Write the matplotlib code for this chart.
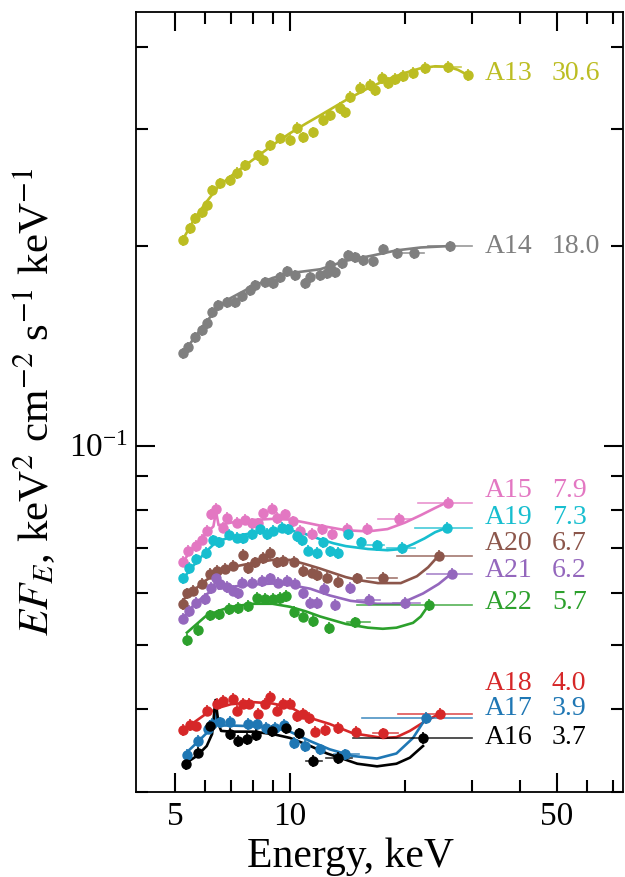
import numpy as np
import matplotlib
matplotlib.use('Agg')
import matplotlib.pyplot as plt
from matplotlib.ticker import FixedLocator, NullFormatter, FixedFormatter

plt.rcParams['font.family'] = ['Liberation Serif', 'DejaVu Serif']
plt.rcParams['mathtext.fontset'] = 'stix'

# ---- spectra: energy (keV) and E*F_E ----
e_a13 = [5.25, 5.47, 5.64, 5.88, 6.06, 6.25, 6.56, 6.96, 7.27, 7.62, 8.25, 8.50, 8.86, 9.41, 10.0,
         10.43, 10.8, 11.49, 12.2, 12.73, 13.52, 13.93, 14.36, 15.25, 16.2, 16.7, 17.4, 18.05, 18.83,
         19.76, 20.99, 22.57, 25.92, 29.24]
f_a13 = [0.204, 0.2127, 0.2202, 0.2249, 0.2304, 0.2428, 0.2488, 0.2514, 0.2576, 0.2648, 0.2742, 0.2694,
         0.2839, 0.2909, 0.2889, 0.3012, 0.2919, 0.2970, 0.3097, 0.3151, 0.3229, 0.3184, 0.3355, 0.3462,
         0.3498, 0.3438, 0.3584, 0.3522, 0.3572, 0.3609, 0.3647, 0.3711, 0.3724, 0.3622]

e_a14 = [5.25, 5.41, 5.64, 5.88, 6.06, 6.25, 6.48, 6.84, 7.18, 7.49, 7.86, 8.1, 8.6, 9.03, 9.41, 9.82,
         10.3, 10.95, 11.28, 11.98, 12.5, 12.73, 13.12, 13.68, 14.19, 14.8, 15.53, 16.5, 17.52, 19.06,
         21.12, 26.23]
f_a14 = [0.1377, 0.1406, 0.1456, 0.1492, 0.1529, 0.1588, 0.1627, 0.1644, 0.1644, 0.1679, 0.1714, 0.1745,
         0.1763, 0.1757, 0.1794, 0.1832, 0.1806, 0.1757, 0.1794, 0.1806, 0.1819, 0.1870, 0.1826, 0.1883,
         0.1936, 0.1923, 0.1903, 0.1896, 0.1977, 0.1950, 0.1950, 0.1998]

e_a15 = [5.25, 5.41, 5.67, 5.88, 6.06, 6.21, 6.40, 6.68, 6.84, 7.27, 7.62, 7.95, 8.25, 8.50, 8.97, 9.25,
         9.70, 10.18, 10.62, 11.42, 12.13, 12.88, 14.1, 15.91, 19.29, 25.92]
f_a15 = [0.0668, 0.0694, 0.0706, 0.0721, 0.0744, 0.0787, 0.0803, 0.0752, 0.0778, 0.0765, 0.0773, 0.0763,
         0.0763, 0.0790, 0.0803, 0.0778, 0.0787, 0.0768, 0.0744, 0.0736, 0.0747, 0.0736, 0.0749, 0.0749,
         0.0776, 0.0820]

e_a19 = [5.25, 5.43, 5.67, 6.03, 6.29, 6.52, 6.92, 7.27, 7.53, 7.95, 8.35, 8.71, 9.03, 9.53, 9.88, 10.43,
         10.75, 11.15, 11.77, 12.2, 12.73, 13.36, 14.19, 15.35, 16.9, 19.64, 25.76]
f_a19 = [0.0630, 0.0654, 0.0673, 0.0689, 0.0719, 0.0714, 0.0734, 0.0726, 0.0724, 0.0736, 0.0749, 0.0736,
         0.0744, 0.0752, 0.0747, 0.0731, 0.0719, 0.0694, 0.0689, 0.0714, 0.0692, 0.0689, 0.0736, 0.0714,
         0.0707, 0.0701, 0.0752]

e_a20 = [5.25, 5.37, 5.57, 5.88, 6.17, 6.44, 6.76, 7.09, 7.53, 7.76, 8.1, 8.5, 8.86, 9.25, 9.59, 10.24,
         10.8, 11.42, 11.77, 12.5, 13.36, 14.98, 17.52, 24.55]
f_a20 = [0.0577, 0.0598, 0.0604, 0.0619, 0.0641, 0.0647, 0.0652, 0.0659, 0.0684, 0.0654, 0.0666, 0.0677,
         0.0689, 0.0666, 0.0670, 0.0668, 0.0647, 0.0643, 0.0638, 0.0632, 0.0623, 0.0630, 0.0632, 0.0682]

e_a21 = [5.25, 5.43, 5.67, 5.99, 6.21, 6.40, 6.56, 6.84, 7.09, 7.31, 7.49, 7.95, 8.45, 8.86, 9.30, 9.82,
         10.3, 10.8, 11.28, 11.77, 12.27, 13.12, 14.36, 16.1, 20.0, 26.55]
f_a21 = [0.0548, 0.0563, 0.0579, 0.0587, 0.0610, 0.0632, 0.0619, 0.0612, 0.0604, 0.0598, 0.0621, 0.0621,
         0.0625, 0.0630, 0.0621, 0.0625, 0.0619, 0.0598, 0.0579, 0.0579, 0.0608, 0.0575, 0.0610, 0.0585,
         0.0579, 0.0641]

e_a22 = [5.37, 5.74, 6.17, 6.52, 6.92, 7.31, 7.76, 8.20, 8.6, 9.03, 9.41, 9.76, 10.24, 10.8, 11.49,
         12.65, 14.8, 23.12]
f_a22 = [0.0509, 0.0527, 0.0554, 0.0556, 0.0567, 0.0569, 0.0573, 0.0589, 0.0587, 0.0587, 0.0589, 0.0593,
         0.0561, 0.0552, 0.0544, 0.0531, 0.0541, 0.0575]

e_a18 = [5.25, 5.47, 5.67, 6.06, 6.44, 6.68, 7.09, 7.27, 7.53, 7.81, 8.25, 8.6, 8.86, 9.25, 9.59, 10.0,
         10.43, 10.8, 11.21, 11.63, 12.35, 13.36, 14.89, 17.52, 24.7]
f_a18 = [0.0372, 0.0379, 0.0378, 0.0398, 0.0408, 0.0412, 0.0415, 0.0398, 0.0408, 0.0408, 0.0394, 0.0408,
         0.0418, 0.0398, 0.0408, 0.0408, 0.0391, 0.0394, 0.0388, 0.0370, 0.0372, 0.0375, 0.0370, 0.0368,
         0.0394]

e_a17 = [5.37, 5.74, 6.10, 6.25, 6.56, 6.96, 7.76, 8.2, 8.65, 9.14, 9.645, 10.24, 10.95, 11.98, 13.93, 22.7]
f_a17 = [0.0341, 0.0358, 0.0374, 0.0380, 0.0382, 0.0383, 0.0380, 0.0380, 0.0375, 0.0375, 0.0379, 0.0356,
         0.0352, 0.0348, 0.0342, 0.0388]

e_a16 = [5.34, 5.74, 6.17, 6.96, 7.31, 7.71, 8.15, 8.97, 9.76, 10.56, 11.49, 13.36, 22.3]
f_a16 = [0.0331, 0.0344, 0.0378, 0.0367, 0.0358, 0.0361, 0.0366, 0.0371, 0.0375, 0.0368, 0.0334, 0.0338,
         0.0362]

# wide high-energy bins: (series, energy, low edge, high edge)
wide_bins = [
    ('A13', 25.92, 24.0, 28.0),
    ('A14', 21.12, 19.3, 22.4), ('A14', 26.23, 23.0, 30.0),
    ('A15', 19.29, 17.0, 21.0), ('A15', 25.92, 21.6, 30.0),
    ('A19', 16.9, 15.9, 17.6), ('A19', 19.64, 17.9, 21.2), ('A19', 25.76, 21.2, 30.0),
    ('A20', 17.52, 15.9, 19.06), ('A20', 24.55, 19.06, 30.0),
    ('A21', 16.1, 15.0, 17.2), ('A21', 20.0, 18.6, 21.9), ('A21', 26.55, 22.84, 30.0),
    ('A22', 14.8, 14.1, 16.2), ('A22', 23.12, 15.0, 30.0),
    ('A18', 17.52, 16.5, 19.2), ('A18', 24.7, 19.17, 30.0),
    ('A17', 13.93, 13.0, 15.2), ('A17', 22.7, 15.4, 30.0),
    ('A16', 11.49, 11.0, 12.1), ('A16', 13.36, 12.4, 14.5), ('A16', 22.3, 14.6, 30.0),
]

# ---- model curves (knots) ----
me_a13 = [5.25, 5.6, 6.0, 6.5, 7.0, 8.0, 9.0, 10, 11, 12, 14, 16, 18, 20, 22, 24, 25.9, 27.5, 29.3]
mf_a13 = [0.205, 0.219, 0.232, 0.246, 0.255, 0.270, 0.284, 0.296, 0.306, 0.315, 0.332, 0.346, 0.357,
          0.365, 0.371, 0.3735, 0.373, 0.369, 0.362]
me_a14 = [5.25, 6.0, 6.5, 7.0, 8.0, 9.0, 10, 12, 14, 16.5, 19, 22, 26.2]
mf_a14 = [0.138, 0.153, 0.162, 0.167, 0.174, 0.179, 0.182, 0.1845, 0.190, 0.1936, 0.197, 0.199, 0.200]
me_a15 = [5.25, 5.6, 6.0, 6.3, 6.4, 6.5, 7, 8, 9, 10, 11, 12, 14, 16, 18, 20, 22, 24, 25.9]
mf_a15 = [0.0668, 0.0705, 0.0735, 0.0755, 0.0795, 0.0758, 0.0765, 0.0772, 0.0775, 0.0773, 0.0765,
          0.0757, 0.0745, 0.0742, 0.0748, 0.0765, 0.0785, 0.0805, 0.0822]
me_a19 = [5.25, 5.6, 6.0, 6.4, 7, 8, 9, 10, 11, 12, 13, 14, 16, 18, 19.6, 21, 22.5, 24, 25.8]
mf_a19 = [0.0630, 0.0660, 0.0690, 0.0715, 0.0728, 0.0738, 0.0743, 0.0745, 0.0735, 0.0722, 0.0712,
          0.0705, 0.0698, 0.0695, 0.0698, 0.0710, 0.0724, 0.0740, 0.0752]
me_a20 = [5.25, 5.6, 6.0, 6.5, 7, 8, 9, 10, 11, 12, 13, 14, 15, 17, 19.5, 21.5, 23, 24.5]
mf_a20 = [0.0585, 0.0605, 0.0625, 0.0645, 0.0655, 0.0665, 0.0672, 0.0672, 0.0662, 0.0652, 0.0642,
          0.0633, 0.0627, 0.0620, 0.0620, 0.0635, 0.0655, 0.0682]
me_a21 = [5.25, 5.6, 6.0, 6.3, 6.4, 6.5, 7, 8, 9, 10, 11.3, 12.7, 14.4, 16.9, 19.4, 22.3, 24.5, 26.5]
mf_a21 = [0.0550, 0.0575, 0.0595, 0.0605, 0.0635, 0.0608, 0.0612, 0.0617, 0.0619, 0.0616, 0.0608,
          0.0594, 0.0583, 0.0577, 0.0577, 0.0598, 0.0618, 0.0641]
me_a22 = [5.37, 6.0, 6.5, 7, 8, 9, 10, 11, 12, 14, 16, 17.5, 19, 21, 22, 23.1]
mf_a22 = [0.0522, 0.0552, 0.0563, 0.0571, 0.0577, 0.0577, 0.0571, 0.0562, 0.0552, 0.0538, 0.0531,
          0.0529, 0.0531, 0.0540, 0.0552, 0.0575]
me_a18 = [5.25, 5.6, 6.0, 6.5, 7, 8, 9, 10, 11.3, 12.7, 14.6, 17.5, 19, 20.6, 22.5, 24.7]
mf_a18 = [0.0370, 0.0382, 0.0393, 0.0402, 0.0407, 0.0410, 0.0408, 0.0403, 0.0388, 0.0380, 0.0368,
          0.0362, 0.0363, 0.0371, 0.0383, 0.0394]
me_a17 = [5.3, 5.7, 6.1, 6.3, 6.4, 6.5, 7, 8, 9, 10, 11.3, 12.7, 14.6, 16.9, 19, 21, 22.7]
mf_a17 = [0.0342, 0.0356, 0.0370, 0.0377, 0.0397, 0.0378, 0.0378, 0.0377, 0.0375, 0.0370, 0.0358,
          0.0348, 0.0340, 0.0337, 0.0343, 0.0362, 0.0388]
me_a16 = [5.3, 5.7, 6.05, 6.25, 6.38, 6.5, 6.6, 7, 8, 9, 10, 11.3, 12.5, 13.7, 15, 16.9, 19, 20.6, 22.3]
mf_a16 = [0.0331, 0.0340, 0.0352, 0.0367, 0.0413, 0.0380, 0.0371, 0.0370, 0.0370, 0.0367, 0.0362,
          0.0352, 0.0343, 0.0337, 0.0331, 0.0328, 0.0331, 0.0338, 0.0352]

names = ['A13', 'A14', 'A15', 'A19', 'A20', 'A21', 'A22', 'A18', 'A17', 'A16']
values = ['30.6', '18.0', '7.9', '7.3', '6.7', '6.2', '5.7', '4.0', '3.9', '3.7']
label_y = [0.3647, 0.1998, 0.0855, 0.0778, 0.0711, 0.0647, 0.0579, 0.0438, 0.0401, 0.0362]
colors = ['#bcbd22', '#7f7f7f', '#e377c2', '#17becf', '#8c564b', '#9467bd', '#2ca02c',
          '#d62728', '#1f77b4', 'black']

data = {'A13': (e_a13, f_a13, me_a13, mf_a13), 'A14': (e_a14, f_a14, me_a14, mf_a14),
        'A15': (e_a15, f_a15, me_a15, mf_a15), 'A19': (e_a19, f_a19, me_a19, mf_a19),
        'A20': (e_a20, f_a20, me_a20, mf_a20), 'A21': (e_a21, f_a21, me_a21, mf_a21),
        'A22': (e_a22, f_a22, me_a22, mf_a22), 'A18': (e_a18, f_a18, me_a18, mf_a18),
        'A17': (e_a17, f_a17, me_a17, mf_a17), 'A16': (e_a16, f_a16, me_a16, mf_a16)}

fig = plt.figure(figsize=(6.25, 8.77), dpi=100)
ax = fig.add_axes([0.2176, 0.0969, 0.7792, 0.8894])

for name, val, ly, col in zip(names, values, label_y, colors):
    e, f, me, mf = data[name]
    e = np.array(e)
    f = np.array(f)
    ax.plot(me, mf, '-', color=col, lw=1.9, zorder=2)
    ax.errorbar(e, f, xerr=0.012 * e, yerr=0.02 * f, fmt='o', color=col, ms=6.5,
                elinewidth=1.2, capsize=0, zorder=3)
    for nm, ec, lo, hi in wide_bins:
        if nm == name:
            ax.plot([lo, hi], [f[np.argmin(np.abs(e - ec))]] * 2, '-', color=col, lw=1.2,
                    alpha=0.8, zorder=2)
    ax.text(32.4, ly, name, color=col, fontsize=20, va='center', ha='left')
    ax.text(48.5, ly, val, color=col, fontsize=20, va='center', ha='left')

ax.set_xscale('log')
ax.set_yscale('log')
ax.set_xlim(3.95, 74.5)
ax.set_ylim(0.03, 0.451)

ax.xaxis.set_major_locator(FixedLocator([5, 10, 50]))
ax.xaxis.set_major_formatter(FixedFormatter(['5', '10', '50']))
ax.xaxis.set_minor_locator(FixedLocator([6, 7, 8, 9, 20, 30, 40, 60, 70]))
ax.xaxis.set_minor_formatter(NullFormatter())
ax.yaxis.set_minor_formatter(NullFormatter())

ax.tick_params(which='both', direction='in', top=True, right=True, width=1.5, labelsize=24)
ax.tick_params(which='major', length=14)
ax.tick_params(which='minor', length=8.5)
ax.tick_params(axis='x', which='major', pad=7)
ax.tick_params(axis='y', which='major', pad=6)
for s in ax.spines.values():
    s.set_linewidth(1.3)

ax.set_xlabel('Energy, keV', fontsize=30)
ax.set_ylabel(r'$EF_E$, keV$^2$ cm$^{-2}$ s$^{-1}$ keV$^{-1}$', fontsize=31)
ax.xaxis.set_label_coords(0.441, -0.058)
ax.yaxis.set_label_coords(-0.16, 0.5)

fig.savefig('out.png', dpi=100)
